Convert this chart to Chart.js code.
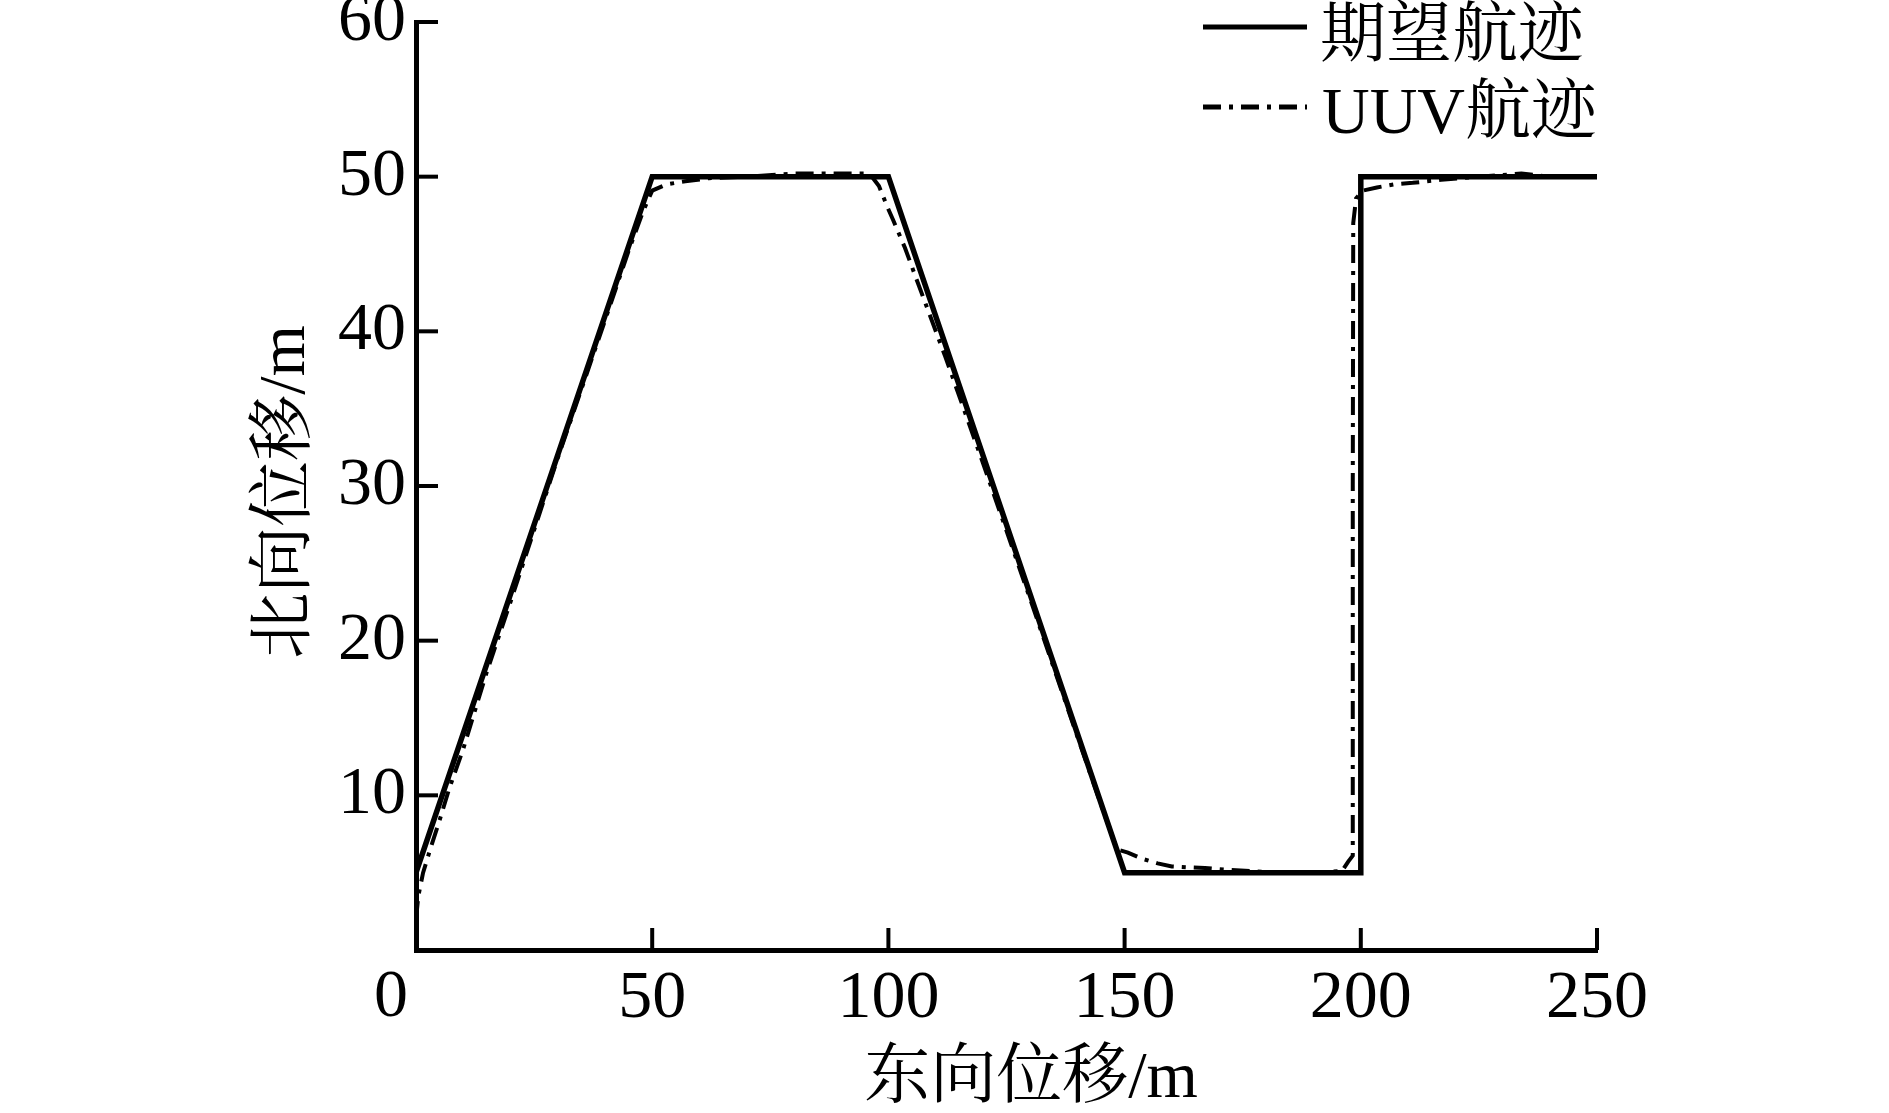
<!DOCTYPE html>
<html>
<head>
<meta charset="utf-8">
<script src="https://cdn.jsdelivr.net/npm/chart.js@4.4.0/dist/chart.umd.min.js"></script>
<style>
    html, body { margin: 0; padding: 0; background: #ffffff; }
    canvas { display: block; }
</style>
</head>
<body>
<canvas id="track" width="1889" height="1113"></canvas>
<script>
// 期望航迹 (desired track)
const desiredX = [0, 50, 100, 150, 200, 200, 250];
const desiredY = [5, 50, 50, 5, 5, 50, 50];

// UUV 实际航迹
const uuvX = [0, 0.5, 1.5, 3, 5, 7, 10, 15, 20, 30, 40, 45, 48, 50, 53, 57, 62, 70, 80, 90, 96,
    98, 99.7, 101, 103.5, 107, 112, 120, 130, 140, 145, 148.4, 150.7, 153.7, 157, 160, 163, 167, 171,
    180, 190, 196, 197.3, 198.3, 198.3, 198.4, 199.0, 200.5, 203.4, 207, 211, 217, 225, 234, 240, 250];
const uuvY = [2, 3.5, 5, 6.5, 8.4, 10.4, 13, 18, 22.5, 31.8, 40.7, 45.2, 47.7, 49.1, 49.5, 49.7, 49.9, 50, 50.2, 50.2, 50.2,
    49.4, 48.1, 47.2, 45.4, 42.5, 38.4, 31.5, 22.7, 13.8, 9.4, 6.5, 6.3, 5.9, 5.6, 5.4, 5.35, 5.3, 5.2,
    5.05, 5, 5.1, 5.7, 6.1, 30, 47, 48.6, 49.1, 49.3, 49.5, 49.6, 49.8, 50, 50.2, 50, 50];

const xTicks = [0, 50, 100, 150, 200, 250];
const yTicks = [10, 20, 30, 40, 50, 60];

const xTitle = '东向位移/m';
const yTitle = '北向位移/m';
const legendLabels = ['期望航迹', 'UUV航迹'];

const SERIF = "'Liberation Serif', 'Noto Serif CJK SC', 'Noto Sans CJK SC', serif";
const uuvDash = [18, 8, 4, 8];

const toPoints = (xs, ys) => xs.map((x, i) => ({ x: x, y: ys[i] }));

// 刻度线朝内 + 原点标签 + 坐标轴标题 + 图例
const decorPlugin = {
    id: 'decor',
    afterDraw(chart) {
        const ctx = chart.ctx;
        const xs = chart.scales.x;
        const ys = chart.scales.y;
        const area = chart.chartArea;
        ctx.save();
        ctx.strokeStyle = '#000';
        ctx.lineWidth = 4;
        ctx.lineCap = 'butt';
        xTicks.forEach(v => {
            if (v === 0) return;
            const px = xs.getPixelForValue(v);
            ctx.beginPath();
            ctx.moveTo(px, area.bottom);
            ctx.lineTo(px, area.bottom - 22);
            ctx.stroke();
        });
        yTicks.forEach(v => {
            const py = ys.getPixelForValue(v);
            ctx.beginPath();
            ctx.moveTo(area.left, py);
            ctx.lineTo(area.left + 22, py);
            ctx.stroke();
        });

        // 原点 "0" 标签稍偏左
        ctx.fillStyle = '#000';
        ctx.font = '68px ' + SERIF;
        ctx.textAlign = 'center';
        ctx.textBaseline = 'top';
        ctx.fillText(String(xTicks[0]), xs.getPixelForValue(xTicks[0]) - 25, xs.top + 14);

        // 坐标轴标题
        ctx.font = '66px ' + SERIF;
        ctx.textBaseline = 'middle';
        ctx.fillText(xTitle, 1031, 1080);
        ctx.save();
        ctx.translate(287, 492);
        ctx.rotate(-Math.PI / 2);
        ctx.fillText(yTitle, 0, 0);
        ctx.restore();

        // 图例
        ctx.lineWidth = 5;
        ctx.beginPath();
        ctx.moveTo(1203, 27);
        ctx.lineTo(1307, 27);
        ctx.stroke();
        ctx.setLineDash(uuvDash);
        ctx.beginPath();
        ctx.moveTo(1203, 107);
        ctx.lineTo(1307, 107);
        ctx.stroke();
        ctx.setLineDash([]);
        ctx.textAlign = 'left';
        ctx.fillText(legendLabels[0], 1320, 39);
        ctx.fillText(legendLabels[1], 1322, 116);
        ctx.restore();
    }
};

const ctx = document.getElementById('track').getContext('2d');
new Chart(ctx, {
    type: 'scatter',
    data: {
        datasets: [
            {
                label: legendLabels[0],
                data: toPoints(desiredX, desiredY),
                showLine: true,
                borderColor: '#000',
                borderWidth: 5.5,
                pointRadius: 0,
                tension: 0,
                borderJoinStyle: 'miter'
            },
            {
                label: legendLabels[1],
                data: toPoints(uuvX, uuvY),
                showLine: true,
                borderColor: '#000',
                borderWidth: 4,
                borderDash: uuvDash,
                pointRadius: 0,
                tension: 0
            }
        ]
    },
    options: {
        responsive: false,
        animation: false,
        devicePixelRatio: 1,
        layout: { padding: { top: 22, right: 292, left: 0, bottom: 0 } },
        plugins: {
            legend: { display: false },
            tooltip: { enabled: false }
        },
        scales: {
            x: {
                type: 'linear',
                min: 0,
                max: 250,
                afterBuildTicks: scale => { scale.ticks = xTicks.map(v => ({ value: v })); },
                afterFit: scale => {
                    scale.height = 163;
                    scale.paddingLeft = 0;
                    scale.paddingRight = 0;
                },
                ticks: {
                    color: '#000',
                    padding: 8,
                    maxRotation: 0,
                    font: { family: SERIF, size: 68 },
                    callback: v => (v === 0 ? '' : v)
                },
                grid: { drawOnChartArea: false, drawTicks: false },
                border: { color: '#000', width: 5 }
            },
            y: {
                min: 0,
                max: 60,
                afterBuildTicks: scale => { scale.ticks = [0].concat(yTicks).map(v => ({ value: v })); },
                afterFit: scale => {
                    scale.width = 416;
                    scale.paddingTop = 0;
                    scale.paddingBottom = 0;
                },
                ticks: {
                    color: '#000',
                    padding: 10,
                    font: { family: SERIF, size: 68 },
                    callback: v => (v === 0 ? '' : v)
                },
                grid: { drawOnChartArea: false, drawTicks: false },
                border: { color: '#000', width: 5 }
            }
        }
    },
    plugins: [decorPlugin]
});
</script>
</body>
</html>
